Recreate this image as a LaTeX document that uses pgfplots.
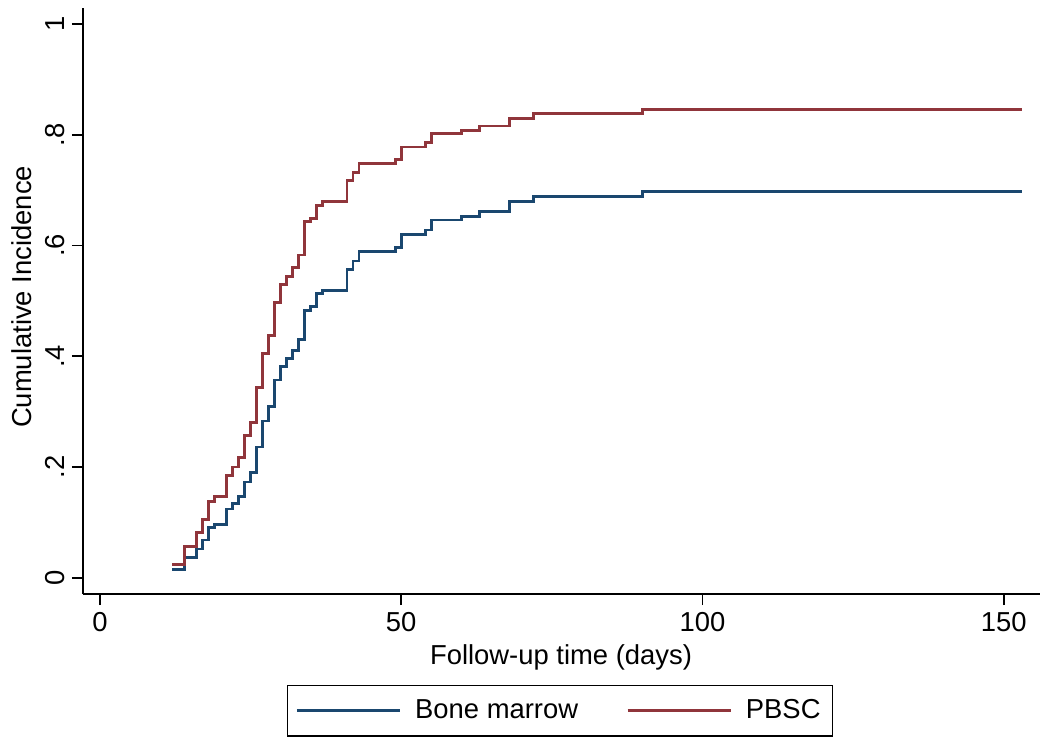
\documentclass[border=0pt]{standalone}
\usepackage{fontspec}
\setmainfont{Liberation Sans}
\usepackage{pgfplots}
\pgfplotsset{compat=1.18}
\usepackage{pgfplotstable}
\usetikzlibrary{calc}
\definecolor{stnavy}{RGB}{26,71,111}
\definecolor{stmaroon}{RGB}{144,53,59}

\pgfplotstableread{
t ci
12 0.015
14 0.037
16 0.052
17 0.068
18 0.091
19 0.096
21 0.124
22 0.134
23 0.146
24 0.173
25 0.190
26 0.236
27 0.283
28 0.309
29 0.357
30 0.382
31 0.396
32 0.410
33 0.430
34 0.483
35 0.490
36 0.513
37 0.519
41 0.556
42 0.572
43 0.589
49 0.596
50 0.620
54 0.628
55 0.646
60 0.653
63 0.662
68 0.680
72 0.689
90 0.698
153 0.698
}\bonemarrow

\pgfplotstableread{
t ci
12 0.024
14 0.057
16 0.081
17 0.105
18 0.137
19 0.146
21 0.184
22 0.200
23 0.217
24 0.257
25 0.281
26 0.343
27 0.405
28 0.437
29 0.497
30 0.529
31 0.544
32 0.560
33 0.583
34 0.643
35 0.649
36 0.673
37 0.679
41 0.717
42 0.732
43 0.748
49 0.756
50 0.778
54 0.786
55 0.802
60 0.808
63 0.816
68 0.830
72 0.838
90 0.845
153 0.845
}\pbsc

\begin{document}
\begin{tikzpicture}
\begin{axis}[
  scale only axis,
  width=478.5pt, height=293pt,
  xmin=-2.8, xmax=156,
  ymin=-0.0294, ymax=1.029,
  axis x line=bottom, axis y line=left,
  axis line style={-, line width=0.9pt, black},
  tick align=outside,
  major tick length=5.5pt,
  tick style={line width=0.9pt, black},
  xtick={0,50,100,150},
  xticklabels={0,50,100,150},
  ytick={0,0.2,0.4,0.6,0.8,1},
  yticklabels={0,.2,.4,.6,.8,1},
  font=\fontsize{13.7}{16}\selectfont,
  tick label style={font=\fontsize{13.7}{16}\selectfont},
  yticklabel style={rotate=90, anchor=south},
  /pgf/number format/assume math mode=true,
  xlabel={Follow-up time (days)},
  ylabel={Cumulative Incidence},
  xlabel style={at={(axis description cs:0.4995,-0.1075)}, anchor=center},
  ylabel style={at={(axis description cs:-0.0637,0.507)}, anchor=center},
  legend columns=2,
  legend style={at={(axis description cs:0.4984,0)}, yshift=-45.5pt, anchor=north,
    draw=black, line width=0.7pt, inner xsep=4pt, inner ysep=5pt,
    font=\fontsize{13.7}{16}\selectfont,
    /tikz/every odd column/.append style={column sep=5pt},
    /tikz/every even column/.append style={column sep=22pt},
    cells={anchor=west}},
  legend image code/.code={\draw[#1] (0pt,0pt) -- (51.5pt,0pt);},
]
\addplot[const plot, color=stnavy, line width=1.4pt] table[x=t, y=ci] {\bonemarrow};
\addlegendentry{Bone marrow}
\addplot[const plot, color=stmaroon, line width=1.4pt] table[x=t, y=ci] {\pbsc};
\addlegendentry{PBSC}
\coordinate (bl) at (rel axis cs:0,0);
\coordinate (tr) at (rel axis cs:1,1);
\end{axis}
\pgfresetboundingbox
\path ($(bl)+(-41.5pt,-76pt)$) rectangle ($(tr)+(5pt,4pt)$);
\end{tikzpicture}
\end{document}
